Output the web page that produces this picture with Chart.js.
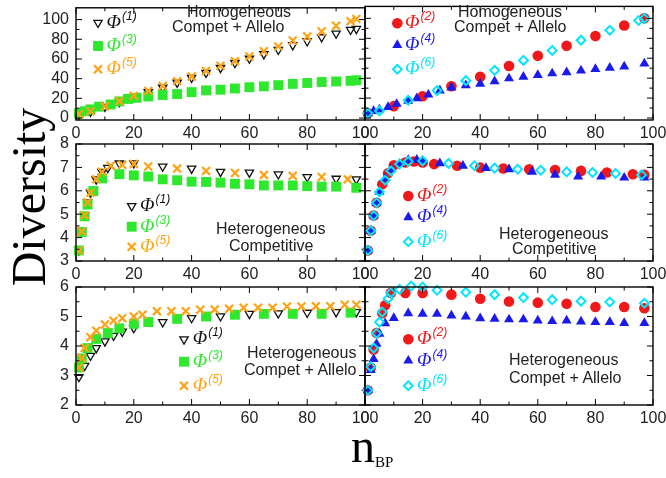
<!DOCTYPE html>
<html><head><meta charset="utf-8">
<script src="https://cdn.jsdelivr.net/npm/chart.js@4.4.1/dist/chart.umd.min.js"></script>
<style>
html,body{margin:0;padding:0;background:#fff;}
#wrap{position:relative;width:666px;height:478px;overflow:hidden;font-family:"Liberation Sans",Arial,sans-serif;}
canvas{position:absolute;}
.t{position:absolute;white-space:nowrap;font-size:16px;color:#222;line-height:16px;font-family:"Liberation Sans",Arial,sans-serif;}
.lg{position:absolute;white-space:nowrap;line-height:20px;}
.lg i{font-family:"Liberation Serif","Times New Roman",serif;font-size:19px;font-style:italic;}
.lg sup{font-family:"Liberation Sans",Arial,sans-serif;font-style:italic;font-size:12px;vertical-align:0;position:relative;top:-8px;margin-left:1px;}
.big{position:absolute;white-space:nowrap;font-family:"Liberation Serif","Times New Roman",serif;color:#000;}
</style></head>
<body><div id="wrap"></div>
<script>
// ---------- tick labels ----------
const xTicks = [0, 20, 40, 60, 80, 100];
const yTicksTop = [0, 20, 40, 60, 80, 100];
const yTicksMid = [3, 4, 5, 6, 7, 8];
const yTicksBot = [2, 3, 4, 5, 6];

// ---------- Top-left: Homogeheous, Compet + Allelo ----------
const tlX1 = [1,5,10,15,20,25,30,35,40,45,50,55,60,65,70,75,80,85,90,95,97];
const tlPhi1 = [3.5,6.5,11.5,16.5,21.5,26.5,31,36,41,46,51,56,60.5,65,69.4,74.1,78.1,82.2,85.9,89.7,90.6];
const tlX3 = [1,3,5,8,12,15,18,21,25,30,35,40,45,50,55,60,65,70,75,80,85,90,95,97];
const tlPhi3 = [4.7,6.9,8.8,11.6,13.8,16.9,19.4,20.6,21.9,23.4,24.4,26.3,28.1,28.8,30,31.3,32.2,33.4,34.7,35.6,36.6,37.2,37.8,38.4];
const tlX5 = [1,5,10,15,20,25,30,35,40,45,50,55,60,65,70,75,80,85,90,95,97];
const tlPhi5 = [3.8,6.9,11.9,17.2,22.5,27.5,32.5,37.5,42.2,47.8,53.1,57.8,62.5,67.8,72.8,78.8,82.8,88,93.8,98.4,100.6];

// ---------- Top-right: Homogeneous, Compet + Allelo ----------
const trX2 = [1,10,20,30,40,50,60,70,80,90,97];
const trPhi2 = [4.7,11.9,21.9,31.9,41.3,52.2,62.5,72.5,82.2,92.8,100];
const trX4 = [1,3,5,8,11,15,18,22,26,30,35,40,45,50,55,60,65,70,75,80,85,90,97];
const trPhi4 = [4.7,6.9,8.4,10.9,14.1,17.2,19.7,23.4,27.5,30.6,32.8,34.4,36.9,39.7,41.3,43.1,44.7,45.9,47.5,49.1,50.3,51.6,54.7];
const trX6 = [1,5,15,25,35,45,55,65,75,85,95,97];
const trPhi6 = [4.7,7.2,17.8,27.5,37.5,47.8,57.8,67.8,78.1,88.1,97.8,100];

// ---------- Middle-left: Heterogeneous, Competitive ----------
const mlX1 = [1,2,3,4,5,7,9,11,15,20,30,40,50,60,70,80,90,97];
const mlPhi1 = [3.45,4.26,4.95,5.51,5.92,6.49,6.81,6.98,7.17,7.18,7.04,6.95,6.81,6.78,6.71,6.59,6.52,6.49];
const mlX3 = [1,2,3,4,6,9,15,20,25,30,35,40,45,50,55,60,65,70,75,80,85,90,97];
const mlPhi3 = [3.45,4.24,4.91,5.41,5.99,6.53,6.71,6.66,6.61,6.49,6.45,6.39,6.38,6.35,6.3,6.28,6.23,6.23,6.23,6.2,6.18,6.18,6.13];
const mlX5 = [1,2,3,4,5,7,9,12,16,20,25,35,45,55,65,75,85,94];
const mlPhi5 = [3.45,4.26,4.95,5.51,5.92,6.49,6.81,7.07,7.11,7.15,7.04,6.95,6.85,6.76,6.68,6.64,6.59,6.49];

// ---------- Middle-right: Heterogeneous, Competitive ----------
const mrX2 = [1,2,3,4,6,8,10,14,17,20,24,32,40,48,57,66,75,84,93,97];
const mrPhi2 = [3.45,4.29,4.94,5.49,6.28,6.75,7.09,7.21,7.25,7.21,7.14,7.07,6.99,6.95,6.92,6.89,6.85,6.78,6.71,6.68];
const mrX4 = [1,2,3,4,5,7,9,12,15,18,20,26,34,42,50,58,66,74,82,90,97];
const mrPhi4 = [3.45,4.29,4.94,5.49,5.95,6.52,6.92,7.14,7.31,7.32,7.28,7.17,7.07,6.97,6.92,6.81,6.68,6.61,6.61,6.56,6.56];
const mrX6 = [1,2,3,4,5,7,9,12,15,20,29,38,45,53,61,70,79,87,96];
const mrPhi6 = [3.45,4.29,4.94,5.49,5.95,6.45,6.85,7.14,7.25,7.28,7.17,7.07,6.97,6.92,6.88,6.81,6.78,6.74,6.68];

// ---------- Bottom-left: Heterogeneous, Compet + Allelo ----------
const blX1 = [1,3,5,7,10,13,16,20,30,40,50,60,70,80,90,97];
const blPhi1 = [2.95,3.33,3.67,3.93,4.16,4.35,4.49,4.61,4.81,4.95,5.01,5.09,5.11,5.13,5.15,5.15];
const blX3 = [1,2,4,7,11,15,20,25,35,45,55,65,75,85,95];
const blPhi3 = [3.27,3.58,3.93,4.24,4.44,4.60,4.75,4.81,4.92,5.0,5.06,5.09,5.09,5.09,5.13];
const blX5 = [1,2,3,5,7,10,13,16,20,23,28,33,38,43,48,53,58,63,68,73,78,83,88,93,97];
const blPhi5 = [3.27,3.59,3.93,4.30,4.52,4.73,4.86,4.94,5.0,5.06,5.18,5.18,5.18,5.23,5.24,5.26,5.30,5.30,5.30,5.34,5.34,5.35,5.35,5.40,5.40];

// ---------- Bottom-right: Heterogeneous, Compet + Allelo ----------
const brX2 = [1,2,3,4,6,7,9,14,20,30,40,50,60,70,80,90,97];
const brPhi2 = [2.5,3.27,3.88,4.44,5.11,5.38,5.80,5.80,5.80,5.74,5.60,5.51,5.47,5.43,5.32,5.32,5.28];
const brX4 = [1,2,3,4,5,7,10,15,20,25,30,35,40,45,50,55,60,65,70,75,80,85,90,97];
const brPhi4 = [2.5,3.18,3.56,4.07,4.41,4.77,4.95,5.11,5.09,5.09,5.03,5.0,4.94,4.92,4.90,4.90,4.86,4.84,4.86,4.83,4.81,4.81,4.78,4.78];
const brX6 = [1,2,3,4,5,6,8,9,12,16,20,25,35,45,55,65,75,85,97];
const brPhi6 = [2.5,3.30,3.93,4.43,4.81,5.15,5.60,5.80,5.92,6.03,6.0,5.89,5.82,5.74,5.64,5.57,5.52,5.49,5.45];

// ---------- styles ----------
const COLORS = {1:'#111111', 2:'#f01818', 3:'#2ee82e', 4:'#1a1aee', 5:'#ffa214', 6:'#00e6ff'};
const STY = {
  1: {pointStyle:'triangle', pointRotation:180, pointRadius:4.8, pointBorderWidth:1.3, pointBorderColor:COLORS[1], pointBackgroundColor:'rgba(0,0,0,0)', order:3},
  3: {pointStyle:'rect', pointRotation:0, pointRadius:7, pointBorderWidth:0, pointBorderColor:COLORS[3], pointBackgroundColor:COLORS[3], order:2},
  5: {pointStyle:'crossRot', pointRotation:0, pointRadius:5.6, pointBorderWidth:2.2, pointBorderColor:COLORS[5], pointBackgroundColor:COLORS[5], order:1},
  2: {pointStyle:'circle', pointRotation:0, pointRadius:5.3, pointBorderWidth:0, pointBorderColor:COLORS[2], pointBackgroundColor:COLORS[2], order:3},
  4: {pointStyle:'triangle', pointRotation:0, pointRadius:5.8, pointBorderWidth:0, pointBorderColor:COLORS[4], pointBackgroundColor:COLORS[4], order:2},
  6: {pointStyle:'rectRot', pointRotation:0, pointRadius:4.4, pointBorderWidth:2, pointBorderColor:COLORS[6], pointBackgroundColor:'rgba(0,0,0,0)', order:1}
};

const COLS = [{L:76, W:289, padL:62, padR:14}, {L:365, W:288, padL:16, padR:13}];
const ROWS = [{T:2, H:118, padT:2}, {T:144, H:117, padT:10}, {T:287, H:118, padT:10}];
const PADB = 26;

const panels = [
  {c:0, r:0, yMin:-2, yMax:112, yTicks:yTicksTop, ser:[[1,tlX1,tlPhi1],[3,tlX3,tlPhi3],[5,tlX5,tlPhi5]],
   leg:{mx:98, tx:106.5, ys:[22.7,46,69.3]}, txt:[['Homogeheous',187,17],['Compet + Allelo',172,32.5]]},
  {c:1, r:0, yMin:-2, yMax:112, yTicks:yTicksTop, ser:[[2,trX2,trPhi2],[4,trX4,trPhi4],[6,trX6,trPhi6]],
   leg:{mx:397.3, tx:405, ys:[23.3,45,69.3]}, txt:[['Homogeneous',458,17],['Compet + Allelo',454,32.5]]},
  {c:0, r:1, yMin:3, yMax:8, yTicks:yTicksMid, ser:[[1,mlX1,mlPhi1],[3,mlX3,mlPhi3],[5,mlX5,mlPhi5]],
   leg:{mx:131.7, tx:140, ys:[206,226.7,246.7]}, txt:[['Heterogeneous',216,234],['Competitive',229,251.5]]},
  {c:1, r:1, yMin:3, yMax:8, yTicks:yTicksMid, ser:[[2,mrX2,mrPhi2],[4,mrX4,mrPhi4],[6,mrX6,mrPhi6]],
   leg:{mx:408.3, tx:417, ys:[196,217.3,241.7]}, txt:[['Heterogeneous',499,239],['Competitive',512,254.5]]},
  {c:0, r:2, yMin:2, yMax:6, yTicks:yTicksBot, ser:[[1,blX1,blPhi1],[3,blX3,blPhi3],[5,blX5,blPhi5]],
   leg:{mx:184, tx:192.7, ys:[339.3,361.7,385.7]}, txt:[['Heterogeneous',247,358.5],['Compet + Allelo',244,375]]},
  {c:1, r:2, yMin:2, yMax:6, yTicks:yTicksBot, ser:[[2,brX2,brPhi2],[4,brX4,brPhi4],[6,brX6,brPhi6]],
   leg:{mx:408.3, tx:417, ys:[339.3,360.7,385.7]}, txt:[['Heterogeneous',509,365],['Compet + Allelo',509,383]]}
];

const wrap = document.getElementById('wrap');

function mids(arr){ const m=[]; for(let i=0;i<arr.length-1;i++) m.push((arr[i]+arr[i+1])/2); return m; }
function zeroPad(s){ s.paddingTop = 0; s.paddingBottom = 0; s.paddingLeft = 0; s.paddingRight = 0; }

const framePlugin = {
  id:'frame',
  afterDatasetsDraw(chart, args, o){
    const {ctx, chartArea:a} = chart; const xs = chart.scales.x, ys = chart.scales.y;
    ctx.save();
    ctx.strokeStyle = '#000'; ctx.lineWidth = 1;
    ctx.beginPath();
    const tick = (v, len, horiz) => {
      if (horiz) { const p = xs.getPixelForValue(v); if (p < a.left-0.5 || p > a.right+0.5) return;
        ctx.moveTo(p, a.bottom); ctx.lineTo(p, a.bottom - len); ctx.moveTo(p, a.top); ctx.lineTo(p, a.top + len); }
      else { const p = ys.getPixelForValue(v); if (p < a.top-0.5 || p > a.bottom+0.5) return;
        ctx.moveTo(a.left, p); ctx.lineTo(a.left + len, p); ctx.moveTo(a.right, p); ctx.lineTo(a.right - len, p); }
    };
    o.xMajor.forEach(v => tick(v, 6, true)); mids(o.xMajor).forEach(v => tick(v, 3.5, true));
    o.yMajor.forEach(v => tick(v, 6, false)); mids(o.yMajor).forEach(v => tick(v, 3.5, false));
    ctx.stroke();
    ctx.lineWidth = 1.4;
    ctx.strokeRect(a.left, a.top, a.right - a.left, a.bottom - a.top);
    ctx.restore();
  }
};

const legendPlugin = {
  id:'legendMarks',
  afterDatasetsDraw(chart, args, o){
    const ctx = chart.ctx;
    o.items.forEach(it => {
      const s = STY[it.k];
      ctx.save();
      ctx.fillStyle = s.pointBackgroundColor; ctx.strokeStyle = s.pointBorderColor; ctx.lineWidth = s.pointBorderWidth;
      Chart.helpers.drawPoint(ctx, {pointStyle:s.pointStyle, rotation:s.pointRotation, radius:s.pointRadius, borderWidth:s.pointBorderWidth}, it.x - o.ox, it.y - o.oy);
      ctx.restore();
    });
  }
};

const FONT = {family:"'Liberation Sans', Arial, sans-serif", size:16};

panels.forEach(p => {
  const col = COLS[p.c], row = ROWS[p.r];
  const cw = col.W + col.padL + col.padR, ch = row.H + row.padT + PADB;
  const cl = col.L - col.padL, ct = row.T - row.padT;
  const cv = document.createElement('canvas');
  cv.width = cw; cv.height = ch; cv.style.left = cl + 'px'; cv.style.top = ct + 'px';
  cv.style.width = cw + 'px'; cv.style.height = ch + 'px';
  wrap.appendChild(cv);
  const datasets = p.ser.map(([k, xs, ys]) => Object.assign({
    label: 'Φ(' + k + ')',
    data: xs.map((x, i) => ({x: x, y: ys[i]})),
    showLine: false, clip: false
  }, STY[k]));
  new Chart(cv, {
    type:'scatter',
    data:{datasets},
    options:{
      responsive:false, animation:false, devicePixelRatio:1, events:[],
      layout:{padding:{left:0, right:col.padR, top:row.padT, bottom:0}},
      plugins:{legend:{display:false}, tooltip:{enabled:false},
        frame:{xMajor:xTicks, yMajor:p.yTicks},
        legendMarks:{ox:cl, oy:ct, items:p.ser.map(([k], i) => ({k, x:p.leg.mx, y:p.leg.ys[i]}))}},
      scales:{
        x:{type:'linear', min:0, max:100,
          afterFit:s => { s.height = PADB; zeroPad(s); },
          afterBuildTicks:s => { s.ticks = xTicks.map(v => ({value:v})); },
          grid:{display:false, drawTicks:false}, border:{display:false},
          ticks:{font:FONT, color:'#222', padding:4, maxRotation:0, autoSkip:false}},
        y:{type:'linear', min:p.yMin, max:p.yMax,
          afterFit:s => { s.width = col.padL; zeroPad(s); },
          afterBuildTicks:s => { s.ticks = p.yTicks.map(v => ({value:v})); },
          grid:{display:false, drawTicks:false}, border:{display:false},
          ticks:{display:p.c === 0, font:FONT, color:'#222', padding:7, autoSkip:false}}
      }
    },
    plugins:[framePlugin, legendPlugin]
  });
  // annotation text
  p.txt.forEach(([s, left, base]) => {
    const d = document.createElement('div'); d.className = 't';
    d.textContent = s; d.style.left = left + 'px'; d.style.top = (base - 13.5) + 'px';
    wrap.appendChild(d);
  });
  // legend labels
  p.ser.forEach(([k], i) => {
    const d = document.createElement('div'); d.className = 'lg';
    d.style.left = p.leg.tx + 'px'; d.style.top = (p.leg.ys[i] - 11) + 'px'; d.style.color = COLORS[k];
    d.innerHTML = '<i>Φ</i><sup>(' + k + ')</sup>';
    wrap.appendChild(d);
  });
});

// axis titles
const yt = document.createElement('div'); yt.className = 'big';
yt.textContent = 'Diversity';
Object.assign(yt.style, {fontSize:'48px', lineHeight:'48px', width:'200px', textAlign:'center', left:(29-100)+'px', top:(197-24)+'px', transform:'rotate(-90deg)', transformOrigin:'50% 50%'});
wrap.appendChild(yt);
const xt = document.createElement('div'); xt.className = 'big';
xt.innerHTML = '<span style="font-size:48px">n</span><span style="font-size:15px;position:relative;top:5px">BP</span>';
Object.assign(xt.style, {lineHeight:'48px', left:'351px', top:(462-40)+'px'});
wrap.appendChild(xt);
</script>
</body></html>
